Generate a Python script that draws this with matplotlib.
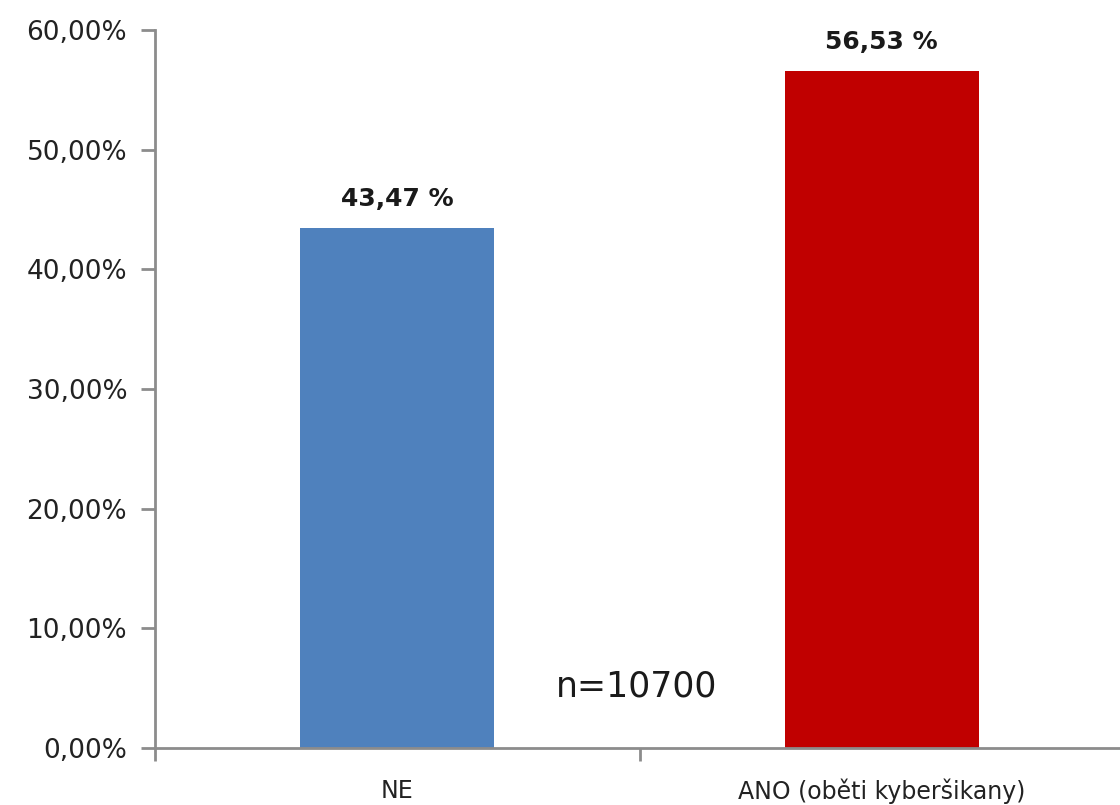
import matplotlib.pyplot as plt
import numpy as np

categories = ['NE', 'ANO (oběti kyberšikany)']
values = [43.47, 56.53]
bar_colors = ['#4F81BD', '#C00000']
yticks = [0, 10, 20, 30, 40, 50, 60]
note = 'n=10700'

plt.rcParams['font.family'] = ['DejaVu Sans']

fig = plt.figure(figsize=(11.2, 8.05), dpi=100)
ax = fig.add_axes([0.1384, 0.0708, 0.8652, 0.892])

x = np.arange(len(categories))
bars = ax.bar(x, values, width=0.40, color=bar_colors)

for b, v in zip(bars, values):
    ax.annotate(('%.2f %%' % v).replace('.', ','),
                (b.get_x() + b.get_width() / 2, v),
                xytext=(0, 21), textcoords='offset points',
                ha='center', va='center', fontsize=18, fontweight='bold', color='#1a1a1a')

ax.text(0.328, 5.1, note, fontsize=25, va='center', ha='left', color='#1a1a1a')

ax.set_xlim(-0.5, len(categories) - 0.5)
ax.set_ylim(0, 60)
ax.set_yticks(yticks)
ax.set_yticklabels([('%.2f%%' % t).replace('.', ',') for t in yticks], fontsize=19, color='#222222')
ax.set_xticks(x)
ax.set_xticklabels(categories, fontsize=17, color='#222222')
ax.set_xticks(np.arange(-0.5, len(categories), 1.0), minor=True)

ax.tick_params(axis='x', which='major', length=0, pad=22)
ax.tick_params(axis='x', which='minor', length=9, width=2, color='#8c8c8c')
ax.tick_params(axis='y', length=10, width=2, color='#8c8c8c', pad=10)

for s in ['top', 'right']:
    ax.spines[s].set_visible(False)
for s in ['left', 'bottom']:
    ax.spines[s].set_color('#8c8c8c')
    ax.spines[s].set_linewidth(2)

fig.savefig('out.png', dpi=100)
